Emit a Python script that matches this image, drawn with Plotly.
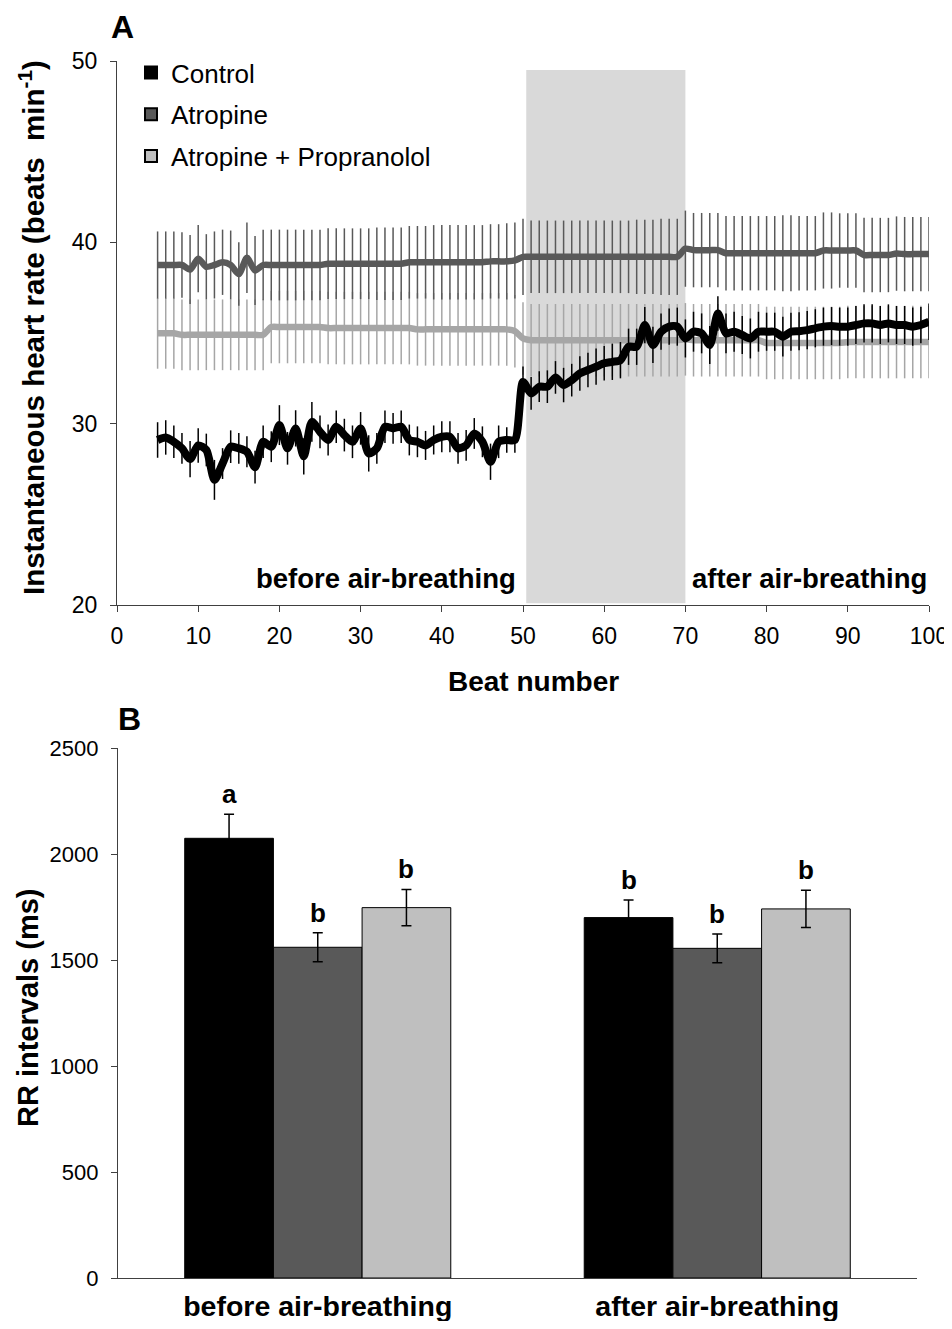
import plotly.graph_objects as go

# ---------------- Panel A data ----------------
beats = list(range(5, 101))

control_hr = [29.1, 29.24, 29.0, 28.64, 28.05, 28.8, 28.55, 26.9, 27.8, 28.73,
              28.64, 28.45, 27.6, 29.0, 28.73, 29.92, 28.64, 29.74, 28.2, 30.1,
              29.55, 29.1, 29.83, 29.37, 29.0, 29.74, 28.36, 28.64, 29.83, 29.74,
              29.83, 29.1, 29.0, 28.8, 29.1, 29.28, 29.28, 28.64, 28.8, 29.46,
              29.0, 27.9, 29.0, 29.1, 29.1,
              32.3, 31.67, 32.04, 32.04, 32.55, 32.13, 32.4, 32.77, 32.96, 33.14,
              33.33, 33.41, 33.5, 34.24, 34.24, 35.44, 34.34, 35.07, 35.35, 35.35,
              34.7, 35.07, 34.98, 34.34, 36.08, 34.98, 35.07, 34.89, 34.7, 35.07,
              35.07, 35.07, 34.8, 35.07, 35.1, 35.16, 35.26, 35.35, 35.38, 35.35,
              35.35, 35.44, 35.53, 35.53, 35.44, 35.53, 35.44, 35.44, 35.35, 35.44,
              35.62]
control_err = [0.98, 0.95, 0.9, 0.85, 1.0, 0.95, 0.9, 1.1, 0.85, 0.9,
               0.85, 0.85, 0.9, 0.9, 0.85, 1.1, 0.9, 1.0, 1.0, 1.1,
               0.9, 0.85, 0.9, 0.9, 0.9, 0.9, 1.0, 0.85, 0.9, 0.85,
               0.9, 0.85, 0.85, 0.8, 0.8, 0.85, 0.85, 0.85, 0.85, 0.85,
               0.85, 1.0, 0.9, 0.7, 0.7,
               0.85, 0.9, 0.85, 0.9, 0.9, 0.95, 0.9, 0.95, 0.95, 1.0,
               0.95, 1.0, 1.0, 1.0, 1.0, 1.0, 1.0, 1.0, 1.0, 1.05,
               1.05, 1.1, 1.1, 1.05, 0.95, 1.1, 1.1, 1.05, 1.1, 1.1,
               1.05, 1.05, 1.1, 1.05, 1.05, 1.05, 1.05, 1.05, 1.05, 1.05,
               1.05, 1.05, 1.05, 1.05, 1.05, 1.05, 1.05, 1.05, 1.05, 1.0,
               1.0]

atropine_hr = [38.75, 38.75, 38.75, 38.75, 38.5, 39.1, 38.65, 38.75, 38.9, 38.75,
               38.25, 39.15, 38.45, 38.75, 38.75, 38.75, 38.75, 38.75, 38.75, 38.75,
               38.75, 38.82, 38.82, 38.82, 38.82, 38.82, 38.82, 38.82, 38.82, 38.82,
               38.82, 38.9, 38.9, 38.9, 38.9, 38.9, 38.9, 38.9, 38.9, 38.9,
               38.9, 38.95, 38.95, 38.95, 39.0,
               39.2, 39.2, 39.2, 39.2, 39.2, 39.2, 39.2, 39.2, 39.2, 39.2,
               39.2, 39.2, 39.2, 39.2, 39.2, 39.2, 39.2, 39.2, 39.2, 39.2,
               39.65, 39.57, 39.57, 39.57, 39.57, 39.4, 39.4, 39.4, 39.4, 39.4,
               39.4, 39.4, 39.4, 39.4, 39.4, 39.4, 39.4, 39.55, 39.55, 39.55,
               39.55, 39.55, 39.3, 39.3, 39.3, 39.3, 39.38, 39.35, 39.35, 39.35,
               39.35]
atropine_err = [1.85, 1.85, 1.85, 1.8, 1.9, 1.85, 1.8, 1.85, 1.8, 1.9,
                1.75, 1.95, 1.9, 1.95, 1.95, 1.95, 1.95, 1.95, 1.95, 1.95,
                1.95, 1.95, 1.95, 1.95, 1.95, 1.95, 1.95, 2.0, 2.0, 2.0,
                2.0, 2.0, 2.0, 2.0, 2.05, 2.05, 2.05, 2.05, 2.05, 2.05,
                2.05, 2.05, 2.05, 2.1, 2.1,
                2.1, 2.0, 2.0, 2.0, 2.0, 2.0, 2.0, 2.0, 2.0, 2.0,
                2.0, 2.0, 2.0, 2.0, 2.05, 2.05, 2.05, 2.1, 2.1, 2.1,
                2.1, 2.05, 2.05, 2.05, 2.05, 2.05, 2.05, 2.05, 2.05, 2.05,
                2.05, 2.05, 2.1, 2.1, 2.05, 2.05, 2.05, 2.1, 2.1, 2.05,
                2.05, 2.05, 2.05, 2.05, 2.05, 2.05, 2.05, 2.05, 2.05, 2.05,
                2.05]

atro_prop_hr = [34.98, 34.98, 34.98, 34.9, 34.9, 34.9, 34.9, 34.9, 34.9, 34.9,
                34.9, 34.9, 34.9, 34.9, 35.33, 35.33, 35.33, 35.33, 35.33, 35.33,
                35.33, 35.27, 35.27, 35.27, 35.27, 35.27, 35.27, 35.27, 35.27, 35.27,
                35.27, 35.27, 35.2, 35.2, 35.2, 35.2, 35.2, 35.2, 35.2, 35.2,
                35.2, 35.2, 35.2, 35.2, 35.1,
                34.7, 34.6, 34.6, 34.6, 34.6, 34.6, 34.6, 34.6, 34.6, 34.6,
                34.6, 34.6, 34.6, 34.6, 34.6, 34.6, 34.6, 34.6, 34.6, 34.6,
                34.65, 34.6, 34.6, 34.6, 34.6, 34.6, 34.6, 34.6, 34.6, 34.6,
                34.45, 34.45, 34.45, 34.45, 34.45, 34.45, 34.45, 34.45, 34.45, 34.45,
                34.5, 34.5, 34.5, 34.5, 34.5, 34.5, 34.5, 34.5, 34.5, 34.5,
                34.5]
atro_prop_err = [1.95, 1.95, 1.95, 1.95, 1.95, 1.95, 1.95, 1.95, 1.95, 1.95,
                 1.95, 1.95, 1.95, 1.95, 2.0, 2.0, 2.0, 2.0, 2.0, 2.0,
                 2.0, 2.0, 2.0, 2.0, 2.0, 2.0, 2.0, 2.0, 2.0, 2.0,
                 2.0, 2.0, 2.0, 2.0, 2.0, 2.0, 2.0, 2.0, 2.0, 2.0,
                 2.0, 2.0, 2.0, 2.0, 2.0,
                 2.0, 2.0, 2.0, 2.0, 2.0, 2.0, 2.0, 2.0, 2.0, 2.0,
                 2.0, 2.0, 2.0, 2.0, 2.0, 2.0, 2.0, 2.0, 2.0, 2.0,
                 2.0, 2.0, 2.0, 2.0, 2.0, 2.0, 2.0, 2.0, 2.0, 2.0,
                 2.0, 2.0, 2.0, 2.0, 2.0, 2.0, 2.0, 2.0, 2.0, 2.0,
                 2.0, 2.0, 2.0, 2.0, 2.0, 2.0, 2.0, 2.0, 2.0, 2.0,
                 2.0]

air_breathing_window = [50.4, 70.0]

# ---------------- Panel B data ----------------
periods = ["before air-breathing", "after air-breathing"]
series_names = ["Control", "Atropine", "Atropine + Propranolol"]
rr_control = [2074, 1700]
rr_control_err = [113, 83]
rr_atropine = [1560, 1555]
rr_atropine_err = [68, 68]
rr_atro_prop = [1747, 1741]
rr_atro_prop_err = [86, 88]
letters_control = ["a", "b"]
letters_atropine = ["b", "b"]
letters_atro_prop = ["b", "b"]

colors = ["#000000", "#595959", "#BFBFBF"]
line_colors = ["#000000", "#595959", "#A6A6A6"]

FONT = "Liberation Sans, Arial, sans-serif"
# page is 952x1329; the html body has an 8px margin on every side, so the
# figure is shrunk to fit inside it without scrollbars
OFF = 8
W, H = 952 - OFF, 1329 - 2 * OFF


def px(x):
    return (x - OFF) / W


def py(y):
    return 1 - (y - OFF) / H


fig = go.Figure()

# Panel A lines (draw lightest first)
for name, y, e, col, lw in [
    ("Atropine + Propranolol", atro_prop_hr, atro_prop_err, line_colors[2], 6.5),
    ("Atropine", atropine_hr, atropine_err, line_colors[1], 6.5),
    ("Control", control_hr, control_err, line_colors[0], 8),
]:
    fig.add_trace(go.Scatter(
        x=beats, y=y, mode="lines", name=name, showlegend=False,
        line=dict(color=col, width=lw, shape="spline", smoothing=0.7),
        error_y=dict(type="data", array=e, visible=True, color=col,
                     thickness=1.5, width=0),
        xaxis="x", yaxis="y"))

# Panel B bars
bar_sets = [
    (series_names[0], rr_control, rr_control_err, colors[0]),
    (series_names[1], rr_atropine, rr_atropine_err, colors[1]),
    (series_names[2], rr_atro_prop, rr_atro_prop_err, colors[2]),
]
for name, vals, errs, col in bar_sets:
    fig.add_trace(go.Bar(
        x=periods, y=vals, name=name, legendgroup=name,
        marker=dict(color=col, line=dict(color="#000000", width=1)),
        error_y=dict(type="data", array=errs, visible=True, color="#000000",
                     thickness=1.5, width=5),
        xaxis="x2", yaxis="y2"))

# Shaded air-breathing window
fig.add_shape(type="rect", xref="x", yref="y",
              x0=air_breathing_window[0], x1=air_breathing_window[1],
              y0=20.1, y1=49.5, fillcolor="#D9D9D9", line=dict(width=0),
              layer="below")


def note(text, x, y, size, xref="paper", yref="paper", angle=0,
         xanchor="center", yanchor="middle", **kw):
    d = dict(text=text, xref=xref, yref=yref, x=x, y=y, showarrow=False,
             textangle=angle, xanchor=xanchor, yanchor=yanchor,
             font=dict(size=size, family=FONT, color="black"))
    d.update(kw)
    return d


annotations = [
    note("<b>A</b>", px(122), py(27), 32),
    note("<b>B</b>", px(130), py(719), 32),
    note("<b>Instantaneous heart rate (beats  min<sup>-1</sup>)</b>",
         px(32), py(328), 29.5, angle=-90),
    note("<b>Beat number</b>", px(533), py(681), 28),
    note("<b>RR intervals (ms)</b>", px(28), py(1008), 29, angle=-90),
    note("<b>before air-breathing</b>", 33.1, 21.45, 27.5, xref="x", yref="y"),
    note("<b>after air-breathing</b>", 100, 21.45, 27.5, xref="x", yref="y",
         xanchor="right"),
]
# Significance letters
off = (1 - 0.334) / 3
for k, (vals, errs, lets) in enumerate([
        (rr_control, rr_control_err, letters_control),
        (rr_atropine, rr_atropine_err, letters_atropine),
        (rr_atro_prop, rr_atro_prop_err, letters_atro_prop)]):
    for i in range(len(periods)):
        annotations.append(note("<b>%s</b>" % lets[i], i + (k - 1) * off,
                                vals[i] + errs[i], 26, xref="x2", yref="y2",
                                yanchor="bottom", yshift=3))

axis_line = dict(showline=True, linecolor="#404040", linewidth=1.3,
                 showgrid=False, zeroline=False, ticks="outside",
                 tickcolor="#404040", ticklen=6, tickwidth=1.3,
                 automargin=False)

fig.update_layout(
    width=W, height=H,
    paper_bgcolor="white", plot_bgcolor="white",
    margin=dict(l=0, r=0, t=0, b=0, autoexpand=False),
    font=dict(family=FONT, color="black"),
    barmode="group", bargap=0.334, bargroupgap=0,
    showlegend=True,
    legend=dict(x=px(131), y=py(49), xanchor="left", yanchor="top",
                bgcolor="rgba(0,0,0,0)", borderwidth=0,
                font=dict(size=26, family=FONT, color="black"),
                tracegroupgap=5, itemsizing="constant"),
    xaxis=dict(domain=[px(117), px(929)], range=[0, 100], dtick=10,
               tickfont=dict(size=23), anchor="y", ticklabelstandoff=4,
               **axis_line),
    yaxis=dict(domain=[py(605), py(61)], range=[20, 50], dtick=10,
               tickfont=dict(size=23), anchor="x", ticklabelstandoff=8,
               **axis_line),
    xaxis2=dict(domain=[px(118), px(917)], anchor="y2", showline=True,
                linecolor="#404040", linewidth=1.3, showgrid=False,
                ticks="", tickfont=dict(size=28.5), ticklabelstandoff=3,
                tickprefix="<b>", ticksuffix="</b>", automargin=False),
    yaxis2=dict(domain=[py(1278), py(748)], range=[0, 2500], dtick=500,
                tickfont=dict(size=22), anchor="x2", ticklabelstandoff=8,
                **axis_line),
    annotations=annotations,
)

fig.write_html("out.html")
